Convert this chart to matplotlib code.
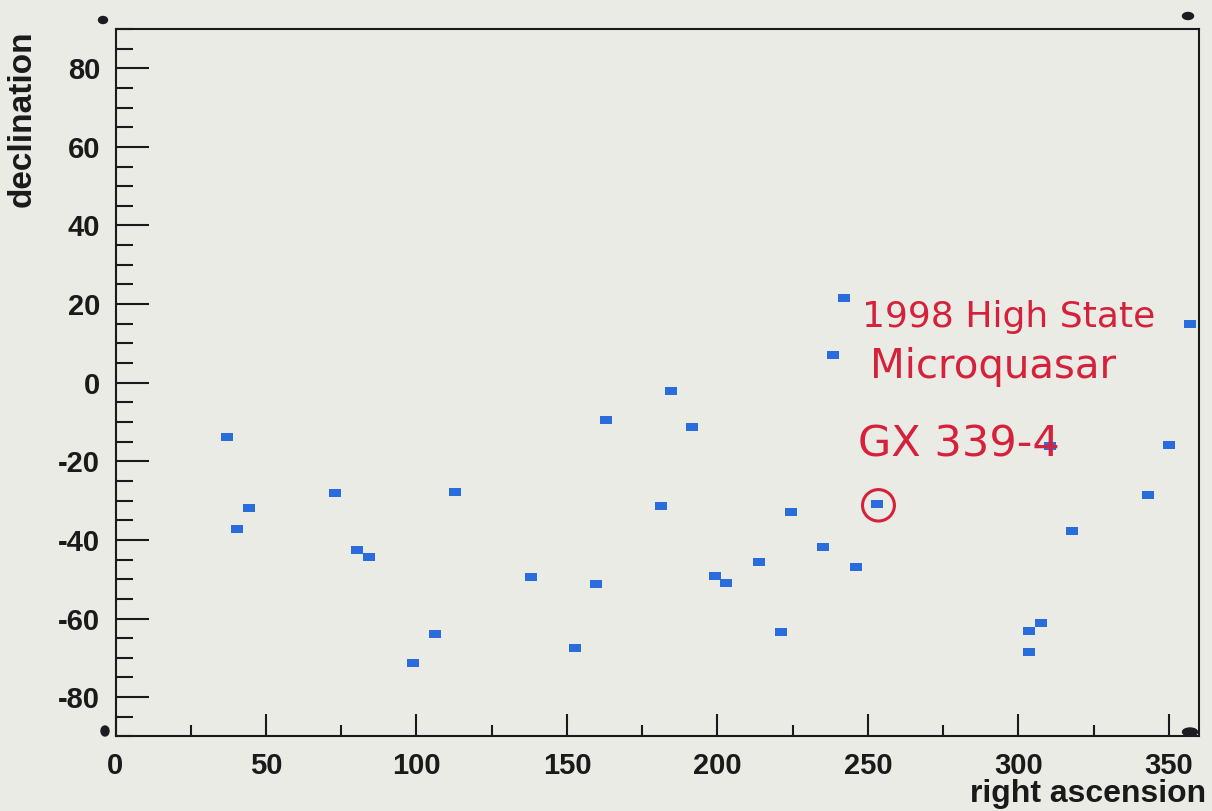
import matplotlib
matplotlib.use("Agg")
import matplotlib.pyplot as plt
from matplotlib.patches import Ellipse
from matplotlib.ticker import MultipleLocator

plt.rcParams["axes.unicode_minus"] = False

# Source positions (right ascension, declination) in degrees
ra = [36.9, 40.5, 44.2, 73.0, 80.3, 84.1, 98.8, 106.0, 112.8, 138.1,
      152.6, 159.6, 163.0, 181.2, 184.6, 191.6, 199.1, 202.8, 213.7, 221.0,
      224.3, 235.0, 241.9, 238.4, 246.0, 253.0, 357.1, 350.0, 310.5, 343.0,
      317.9, 303.6, 307.5, 303.6]
dec = [-13.7, -37.2, -32.0, -28.1, -42.6, -44.3, -71.4, -64.0, -27.9, -49.4,
       -67.4, -51.2, -9.5, -31.3, -2.2, -11.2, -49.1, -50.9, -45.6, -63.4,
       -32.9, -41.7, 21.5, 7.0, -47.0, -30.9, 14.9, -15.9, -16.0, -28.6,
       -37.7, -63.1, -61.2, -68.4]

# Highlighted source
gx_ra, gx_dec = 253.0, -30.9
note_lines = ["1998 High State", "Microquasar", "GX 339-4"]

paper = "#ebebe6"
blue = "#2b6cdc"
ink = "#d5213a"
dark = "#1a1a1a"

W, H = 1212, 811
fig = plt.figure(figsize=(W / 100, H / 100), dpi=100, facecolor=paper)
ax = fig.add_axes([115.5 / W, 1 - 736.4 / H, (1199 - 115.5) / W, (736.4 - 29) / H])
ax.set_facecolor(paper)

rect = [(-1.35, -1), (1.35, -1), (1.35, 1), (-1.35, 1), (-1.35, -1)]
ax.plot(ra, dec, linestyle="none", marker=rect, ms=8.4, mew=0, color=blue,
        clip_on=False, zorder=3)

ax.set_xlim(0, 360)
ax.set_ylim(-90, 90)

for s in ax.spines.values():
    s.set_linewidth(1.5)
    s.set_color(dark)

ax.xaxis.set_major_locator(MultipleLocator(50))
ax.xaxis.set_minor_locator(MultipleLocator(25))
ax.yaxis.set_major_locator(MultipleLocator(20))
ax.yaxis.set_minor_locator(MultipleLocator(5))

ax.tick_params(axis="x", which="major", direction="in", length=16, width=1.5,
               pad=11, colors=dark)
ax.tick_params(axis="x", which="minor", direction="in", length=8, width=1.5,
               colors=dark)
ax.tick_params(axis="y", which="major", direction="in", length=24, width=1.5,
               pad=11, colors=dark)
ax.tick_params(axis="y", which="minor", direction="in", length=12, width=1.5,
               colors=dark)
for t in ax.get_xticklabels() + ax.get_yticklabels():
    t.set_fontfamily("Liberation Sans")
    t.set_fontweight("bold")
    t.set_fontsize(21)

# Axis titles placed at the axis ends
fig.text(22 / W, 1 - 30 / H, "declination", rotation=90, ha="center", va="top",
         family="Liberation Sans", weight="bold", size=24, color=dark)
fig.text(1206 / W, 1 - 802 / H, "right ascension", ha="right", va="baseline",
         family="Liberation Sans", weight="bold", size=23, color=dark)

# Annotation for the highlighted source
ax.text(248.0, 14.2, note_lines[0], ha="left", va="baseline",
        family="DejaVu Sans", size=26, color=ink)
ax.text(250.7, 1.2, note_lines[1], ha="left", va="baseline",
        family="DejaVu Sans", size=29, color=ink)
ax.text(246.7, -18.9, note_lines[2], ha="left", va="baseline",
        family="DejaVu Sans", size=31, color=ink)
ax.add_patch(Ellipse((gx_ra + 0.5, gx_dec - 0.3), 10.6, 8.0, fill=False,
                     edgecolor=ink, linewidth=2.2, zorder=4))

# Corner registration dots
for (px, py, w, h) in [(103, 20, 9, 7), (1188, 16, 11, 7),
                       (105, 731, 8, 10), (1190, 732, 15, 8)]:
    fig.patches.append(Ellipse((px / W, 1 - py / H), w / W, h / H,
                               transform=fig.transFigure, color="#1e1a22",
                               zorder=5))

fig.savefig("out.png", dpi=100, facecolor=paper)
